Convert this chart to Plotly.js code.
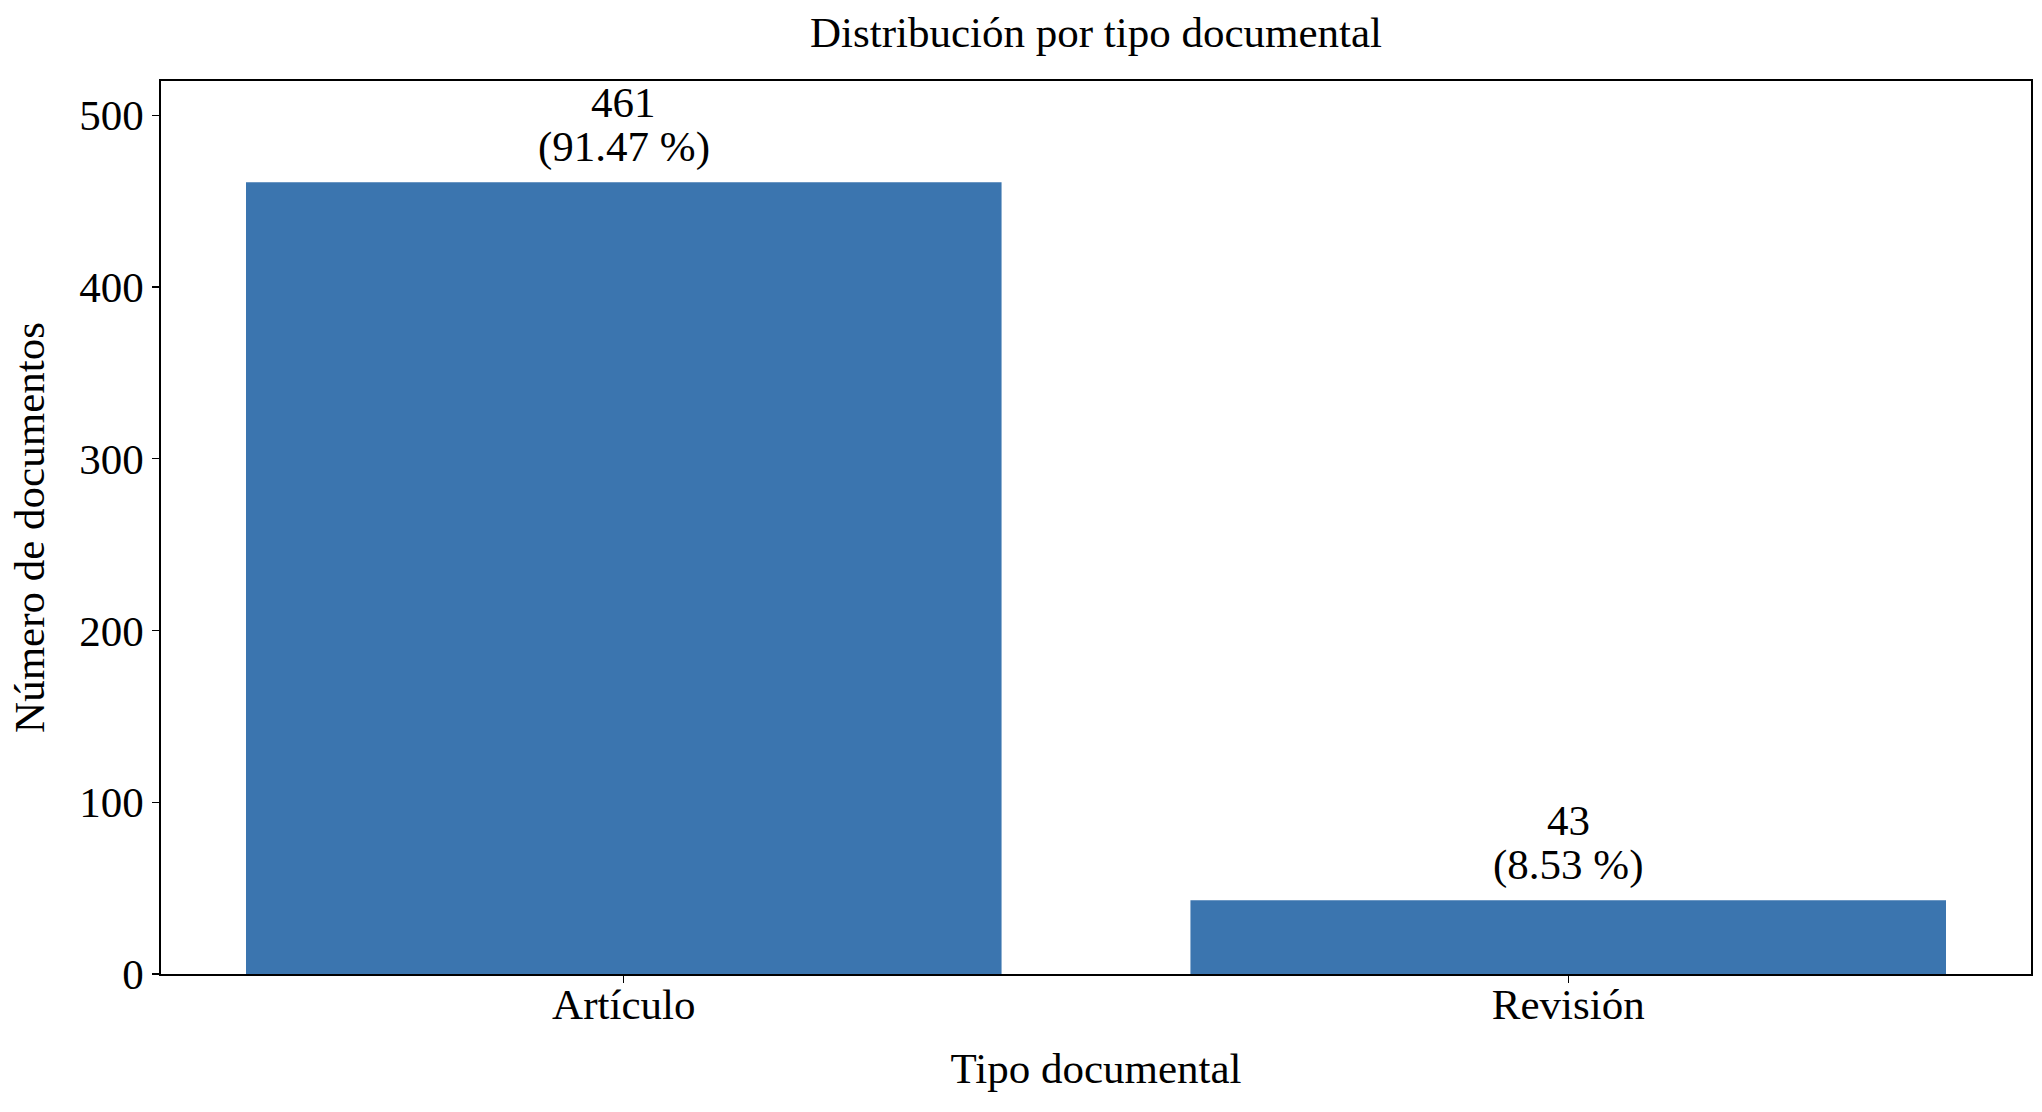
<!DOCTYPE html>
<html>
<head>
<meta charset="utf-8">
<script src="https://cdn.plot.ly/plotly-3.0.1.min.js"></script>
<style>
  html, body { margin: 0; padding: 0; background: #fff; }
  #chart { width: 2042px; height: 1112px; }
</style>
</head>
<body>
<div id="chart"></div>
<script>
// tipos documentales y numero de documentos
const categories = ['Artículo', 'Revisión'];
const counts = [461, 43];
const yTicks = [0, 100, 200, 300, 400, 500];

const total = counts.reduce((a, b) => a + b, 0);
const FONT = '"Liberation Serif", "Times New Roman", "DejaVu Serif", serif';
const FS = 43;

const trace = {
    x: categories,
    y: counts,
    type: 'bar',
    marker: { color: '#3b75af' },
    hoverinfo: 'x+y'
};

// dos lineas por barra: cantidad y porcentaje
let annotations = [];
for (let i = 0; i < categories.length; i++) {
    let pct = (counts[i] / total * 100).toFixed(2);
    annotations.push({
        x: categories[i], y: counts[i], xref: 'x', yref: 'y',
        text: '(' + pct + ' %)', showarrow: false,
        yanchor: 'bottom', yshift: 9,
        font: { family: FONT, size: FS, color: '#000' }
    });
    annotations.push({
        x: categories[i], y: counts[i], xref: 'x', yref: 'y',
        text: String(counts[i]), showarrow: false,
        yanchor: 'bottom', yshift: 54,
        font: { family: FONT, size: FS, color: '#000' }
    });
}

const layout = {
    width: 2042,
    height: 1112,
    margin: { l: 161, r: 11, t: 81, b: 138 },
    paper_bgcolor: '#fff',
    plot_bgcolor: '#fff',
    font: { family: FONT, size: FS, color: '#000' },
    bargap: 0.2,
    showlegend: false,
    title: {
        text: 'Distribución por tipo documental',
        x: 0.5, xref: 'paper',
        y: 1 - 32 / 1112, yref: 'container', yanchor: 'middle',
        font: { family: FONT, size: FS, color: '#000' }
    },
    xaxis: {
        title: { text: 'Tipo documental', standoff: 25, font: { family: FONT, size: FS } },
        range: [-0.49, 1.49],
        showline: true, mirror: true, linecolor: '#000', linewidth: 1.6,
        ticks: 'outside', ticklen: 7, tickwidth: 1.3, tickcolor: '#000',
        ticklabelstandoff: -15,
        showgrid: false, zeroline: false,
        tickfont: { family: FONT, size: FS }
    },
    yaxis: {
        title: { text: 'Número de documentos', standoff: 21, font: { family: FONT, size: FS } },
        range: [0, 520],
        tickvals: yTicks,
        showline: true, mirror: true, linecolor: '#000', linewidth: 1.6,
        ticks: 'outside', ticklen: 7, tickwidth: 1.3, tickcolor: '#000',
        showgrid: false, zeroline: false,
        tickfont: { family: FONT, size: FS }
    },
    annotations: annotations
};

Plotly.newPlot('chart', [trace], layout, { displayModeBar: false, staticPlot: true });
</script>
</body>
</html>
